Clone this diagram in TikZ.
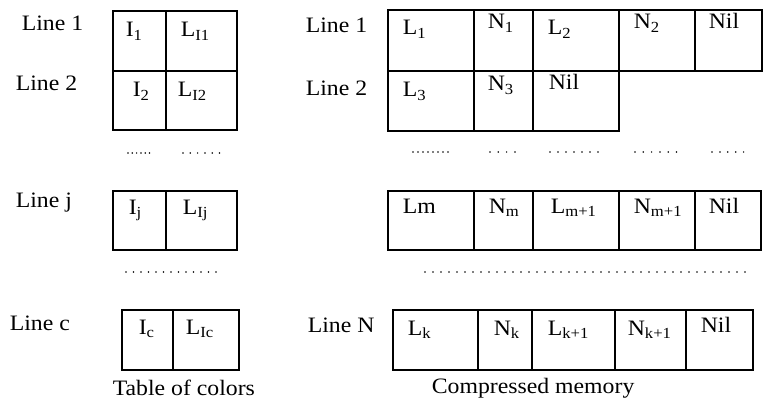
\documentclass[tikz,border=0pt]{standalone}
\usepackage{fontspec}
\setmainfont{Liberation Serif}[FakeStretch=1.08]

\begin{document}
\begin{tikzpicture}[x=1pt, y=-1pt, line width=1.6pt,
  txt/.style={anchor=base west, inner sep=0pt, font=\fontsize{22}{26}\selectfont},
  leader/.style={line width=1.7pt, line cap=round, dash pattern=on 0pt off #1}]
\useasboundingbox (0,0) rectangle (763,401);
% table of colors
\draw[black] (113,11) rectangle (237,71);
\draw[black] (166,11) -- (166,71);
\draw[black] (113,71) rectangle (237,130);
\draw[black] (166,71) -- (166,130);
\draw[black] (113,191) rectangle (237,250);
\draw[black] (166,191) -- (166,250);
\draw[black] (122,310) rectangle (239,370);
\draw[black] (173,310) -- (173,370);
% compressed memory
\draw[black] (388,10) rectangle (762,71);
\draw[black] (474,10) -- (474,71);
\draw[black] (533,10) -- (533,71);
\draw[black] (619,10) -- (619,71);
\draw[black] (695,10) -- (695,71);
\draw[black] (388,71) rectangle (619,131);
\draw[black] (474,71) -- (474,131);
\draw[black] (533,71) -- (533,131);
\draw[black] (388,191) rectangle (761,250);
\draw[black] (474,191) -- (474,250);
\draw[black] (533,191) -- (533,250);
\draw[black] (619,191) -- (619,250);
\draw[black] (695,191) -- (695,250);
\draw[black] (393,310) rectangle (753,370);
\draw[black] (478,310) -- (478,370);
\draw[black] (532,310) -- (532,370);
\draw[black] (615,310) -- (615,370);
\draw[black] (686,310) -- (686,370);
% dots
\draw[leader=4.3pt] (128,153) -- (152,153);
\draw[leader=7.3pt] (183,153) -- (220,153);
\draw[leader=7.5pt] (126,272) -- (217,272);
\draw[leader=5pt] (413,152) -- (448,152);
\draw[leader=8.3pt] (490,152) -- (517,152);
\draw[leader=8pt] (550,152) -- (598,152);
\draw[leader=8.3pt] (635,152) -- (677,152);
\draw[leader=7.9pt] (712,152) -- (744,152);
\draw[leader=8pt] (425,272) -- (745,272);
% line labels
\node[txt] (lc1) at (21,31) {Line 1};
\node[txt] (lc2) at (15,91) {Line 2};
\node[txt] (lcj) at (15,207) {Line j};
\node[txt] (lcc) at (9,330) {Line c};
\node[txt] (lm1) at (305,33) {Line 1};
\node[txt] (lm2) at (305,96) {Line 2};
\node[txt] (lmn) at (307,332) {Line N};
% cells of the table of colors
\node[txt] (i1) at (125,37) {I\textsubscript{1}};
\node[txt] (li1) at (180,37) {L\textsubscript{I1}};
\node[txt] (i2) at (132,97) {I\textsubscript{2}};
\node[txt] (li2) at (177,97) {L\textsubscript{I2}};
\node[txt] (ij) at (128,214) {I\textsubscript{j}};
\node[txt] (lij) at (182,214) {L\textsubscript{Ij}};
\node[txt] (ic) at (138,334) {I\textsubscript{c}};
\node[txt] (lic) at (185,334) {L\textsubscript{Ic}};
% cells of the compressed memory
\node[txt] (l1) at (402,35) {L\textsubscript{1}};
\node[txt] (n1) at (487,29) {N\textsubscript{1}};
\node[txt] (l2) at (547,35) {L\textsubscript{2}};
\node[txt] (n2) at (633,29) {N\textsubscript{2}};
\node[txt] (nil1) at (708,29) {Nil};
\node[txt] (l3) at (402,97) {L\textsubscript{3}};
\node[txt] (n3) at (487,91) {N\textsubscript{3}};
\node[txt] (nil2) at (548,90) {Nil};
\node[txt] (lm) at (402,213) {Lm};
\node[txt] (nm) at (488,213) {N\textsubscript{m}};
\node[txt] (lm1b) at (550,213) {L\textsubscript{m+1}};
\node[txt] (nm1) at (633,213) {N\textsubscript{m+1}};
\node[txt] (nilm) at (708,213) {Nil};
\node[txt] (lk) at (407,335) {L\textsubscript{k}};
\node[txt] (nk) at (493,335) {N\textsubscript{k}};
\node[txt] (lk1) at (547,335) {L\textsubscript{k+1}};
\node[txt] (nk1) at (627,335) {N\textsubscript{k+1}};
\node[txt] (nilk) at (700,332) {Nil};
% captions
\node[txt] (tcap) at (112,395) {Table of colors};
\node[txt] (mcap) at (431,393) {Compressed memory};
\end{tikzpicture}
\end{document}
